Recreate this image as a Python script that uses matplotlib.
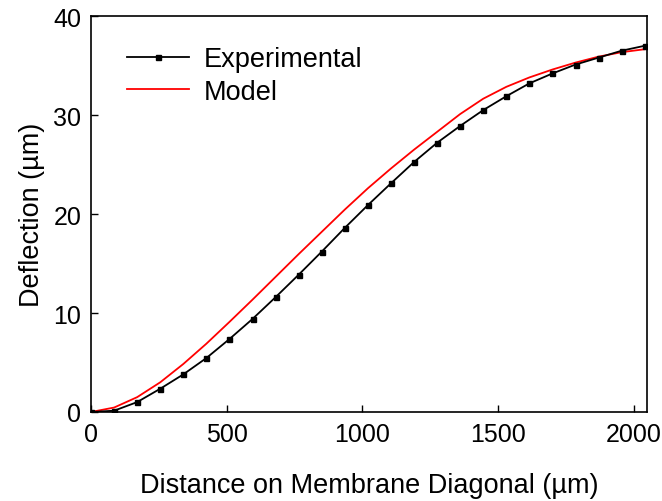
import matplotlib
matplotlib.use("Agg")
import matplotlib.pyplot as plt

plt.rcParams['font.family'] = ['Liberation Sans', 'DejaVu Sans']

# Positions along the membrane diagonal (µm)
distance = [0, 85, 170, 255, 340, 425, 510, 595, 680, 765, 850, 935, 1020,
            1105, 1190, 1275, 1360, 1445, 1530, 1615, 1700, 1785, 1870, 1955, 2040]

# Measured deflection (µm)
experimental = [0.0, 0.13, 1.0, 2.35, 3.8, 5.45, 7.37, 9.4, 11.6, 13.87, 16.2,
                18.6, 20.9, 23.1, 25.25, 27.2, 28.9, 30.5, 31.9, 33.2, 34.2,
                35.1, 35.8, 36.5, 37.0]

# Model prediction (µm)
model = [0.0, 0.45, 1.5, 3.0, 4.85, 6.9, 9.1, 11.35, 13.65, 15.95, 18.2,
         20.45, 22.6, 24.6, 26.5, 28.3, 30.1, 31.65, 32.85, 33.8, 34.6,
         35.3, 35.9, 36.35, 36.65]

x_ticks = [0, 500, 1000, 1500, 2000]
y_ticks = [0, 10, 20, 30, 40]

fig = plt.figure(figsize=(6.62, 5.02), dpi=100)
ax = fig.add_axes([0.1375, 0.1773, 0.8405, 0.7887])

ax.plot(distance, experimental, color='black', lw=1.3, marker='s',
        markersize=3.6, label='Experimental', zorder=3)
ax.plot(distance, model, color='#ff0000', lw=1.3, label='Model', zorder=2)

ax.set_xlim(0, 2050)
ax.set_ylim(0, 40)
ax.set_xticks(x_ticks)
ax.set_yticks(y_ticks)
ax.tick_params(direction='in', length=5, width=1, labelsize=18,
               top=False, right=False, pad=7)
for s in ax.spines.values():
    s.set_linewidth(1.2)

ax.set_xlabel('Distance on Membrane Diagonal (µm)', fontsize=19.5, labelpad=19)
ax.set_ylabel('Deflection (µm)', fontsize=19.5, labelpad=6)

ax.legend(loc='upper left', frameon=False, fontsize=19.5,
          bbox_to_anchor=(0.035, 0.965), handlelength=2.3,
          handletextpad=0.55, labelspacing=0.25, borderaxespad=0.2)

fig.savefig('out.png', dpi=100)
